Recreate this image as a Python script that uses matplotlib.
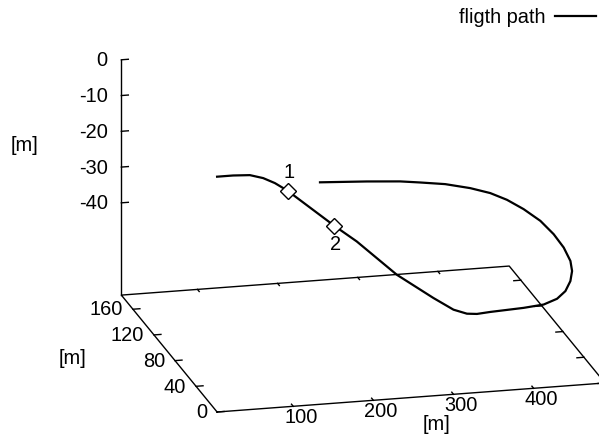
import numpy as np
from matplotlib import pyplot as plt

# flight path [m]
path_x = [5, 25, 45.9, 62.5, 77.1, 87.5, 93, 151.25, 179.25, 229.25, 275, 300,
          316.75, 329.25, 345.9, 388.8, 416.4, 437.1, 453.4, 467.5, 477.5,
          483.3, 486.1, 485.4, 480.6, 471.5, 460.6, 447.6, 428.5, 401.2, 372.6,
          348.9, 308.6, 250.9]
path_y = [0, 0, 0, 0, 0, 0, 0, 0, 0, 0, 0, 0,
          0, 0, 0, 2, 6, 12, 21, 33, 45,
          57, 74, 92, 110, 128, 143, 155, 164, 170, 174,
          176, 178, 179]
path_z = [0, 0, -0.25, -1.36, -3.0, -4.57, -5.42, -16.18, -21.03, -31.18, -38.46, -42.14,
          -43.54, -43.82, -43.54, -43.48, -43.73, -43.54, -43.29, -42.88, -42.39,
          -41.83, -41.18, -40.67, -40.09, -39.89, -39.8, -39.85, -39.76, -39.26, -39.04,
          -38.7, -38.4, -37.85]

# waypoints
wp_x = [93, 151.25]
wp_y = [0, 0]
wp_z = [-5.42, -16.18]
wp_labels = ['1', '2']

x_ticks = [100, 200, 300, 400]
y_ticks = [0, 40, 80, 120, 160]
z_ticks = [0, -10, -20, -30, -40]

x_min, x_max = 5, 489
y_min, y_max = 0, 182
z_base, z_max = -65.8, 0

plt.rcParams['font.family'] = ['Liberation Sans', 'DejaVu Sans']
plt.rcParams['font.size'] = 14.4

fig = plt.figure(figsize=(5.99, 4.38), dpi=100)
ax = fig.add_axes([0.0732, -0.2344, 1.0381, 1.4196], projection='3d', proj_type='ortho')
ax.view_init(elev=17.6, azim=-103.91)
ax.set_box_aspect((399.0, 397.7, 246.5), zoom=0.9615)
ax.set_xlim(x_min, x_max)
ax.set_ylim(y_min, y_max)
ax.set_zlim(z_base, z_max)
ax.set_axis_off()

# gnuplot like frame: base plane + z axis
fr = dict(color='black', lw=1.0)
ax.plot([x_min, x_max, x_max, x_min, x_min], [y_min, y_min, y_max, y_max, y_min],
        [z_base] * 5, **fr)
ax.plot([x_min, x_min], [y_max, y_max], [z_base, z_max], **fr)

tl_x = 0.018 * (x_max - x_min)
tl_y = 0.018 * (y_max - y_min)
for t in x_ticks:
    ax.plot([t, t], [y_min, y_min + tl_y], [z_base, z_base], **fr)
    ax.plot([t, t], [y_max, y_max - tl_y], [z_base, z_base], **fr)
    ax.text(t, y_min - 14.3, z_base - 0.45, str(t), ha='center', va='center')
for t in y_ticks:
    ax.plot([x_min, x_min + tl_x], [t, t], [z_base, z_base], **fr)
    ax.plot([x_max, x_max - tl_x], [t, t], [z_base, z_base], **fr)
    ax.text(x_min - 12.5, t, z_base, str(t), ha='right', va='center')
for t in z_ticks:
    ax.plot([x_min, x_min + tl_x], [y_max, y_max], [t, t], **fr)
    ax.text(x_min - 17, y_max, t, str(t), ha='right', va='center')

ax.plot(path_x, path_y, path_z, color='black', lw=1.6, label='fligth path')
ax.plot(wp_x, wp_y, wp_z, ls='none', marker='D', ms=8, mfc='white', mec='black', mew=1.0)
for i, lab in enumerate(wp_labels):
    side = 1 if i == 0 else -1
    ax.text(wp_x[i] + 2, wp_y[i], wp_z[i] + side * 5.2, lab, ha='center', va='center')

fig.text(436 / 599, 1 - 425 / 438, '[m]', ha='center', va='center')
fig.text(73 / 599, 1 - 358 / 438, '[m]', ha='center', va='center')
fig.text(24.5 / 599, 1 - 146 / 438, '[m]', ha='center', va='center')

fig.legend(loc='upper right', bbox_to_anchor=(1 + 5 / 599, 1), frameon=False, markerfirst=False,
           handlelength=2.05, handletextpad=0.5, borderaxespad=0, borderpad=0.38)

fig.savefig('out.png', dpi=100)
